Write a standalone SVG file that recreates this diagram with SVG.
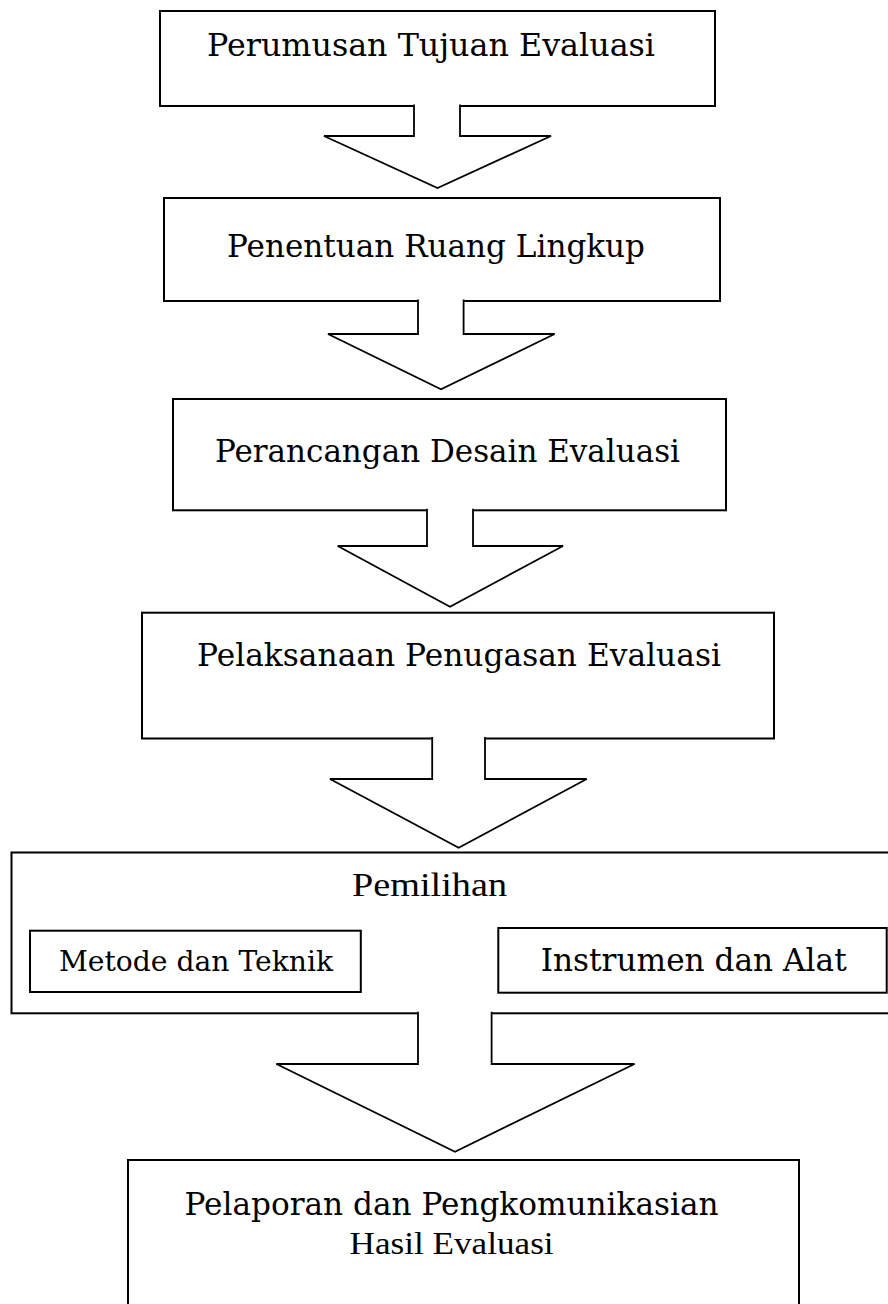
<svg xmlns="http://www.w3.org/2000/svg" width="888" height="1304" viewBox="0 0 888 1304">
<style>
.box{fill:#fff;stroke:#000;stroke-width:2}
.arr{fill:#fff;stroke:#000;stroke-width:1.8;stroke-linejoin:miter}
.t{font-family:"DejaVu Serif","Liberation Serif",serif;font-size:31px;fill:#000}
.ts{font-family:"DejaVu Serif","Liberation Serif",serif;font-size:27px;fill:#000}
.tc{font-family:"Liberation Serif","DejaVu Serif",serif;fill:#000}
</style>
<rect width="888" height="1304" fill="#fff"/>
<g id="n1"><rect class="box" x="160" y="11" width="555" height="95"/><text class="t" x="207" y="56" textLength="448" lengthAdjust="spacingAndGlyphs">Perumusan Tujuan Evaluasi</text></g>
<g id="n2"><rect class="box" x="164" y="198" width="556" height="103"/><text class="t" x="227" y="257" textLength="418" lengthAdjust="spacingAndGlyphs">Penentuan Ruang Lingkup</text></g>
<g id="n3"><rect class="box" x="173" y="399" width="553" height="111.3"/><text class="t" x="215" y="462" textLength="465" lengthAdjust="spacingAndGlyphs">Perancangan Desain Evaluasi</text></g>
<g id="n4"><rect class="box" x="142" y="612.7" width="632" height="125.8"/><text class="t" x="197" y="666" textLength="524" lengthAdjust="spacingAndGlyphs">Pelaksanaan Penugasan Evaluasi</text></g>
<g id="n5"><rect class="box" x="11.5" y="852.5" width="880" height="160.8"/><text class="tc" x="352" y="896" font-size="33" textLength="155" lengthAdjust="spacingAndGlyphs">Pemilihan</text></g>
<g id="n5a"><rect class="box" x="30" y="930.7" width="330.8" height="61.3"/><text class="ts" x="59" y="971" textLength="274" lengthAdjust="spacingAndGlyphs">Metode dan Teknik</text></g>
<g id="n5b"><rect class="box" x="498.3" y="928" width="388.4" height="64.7"/><text class="t" x="540.7" y="971" textLength="306" lengthAdjust="spacingAndGlyphs">Instrumen dan Alat</text></g>
<g id="n6"><rect class="box" x="128" y="1160" width="671" height="160"/><text class="t" x="184.5" y="1215" textLength="534" lengthAdjust="spacingAndGlyphs">Pelaporan dan Pengkomunikasian</text><text class="tc" x="349.6" y="1254" font-size="31" textLength="204" lengthAdjust="spacingAndGlyphs">Hasil Evaluasi</text></g>
<g id="connectors">
<polyline class="arr" points="414,104.5 414,136 324,136 437.5,188 551,136 460,136 460,104.5"/>
<polyline class="arr" points="418,299.5 418,334 328,334 441,389.3 554.6,334 463.6,334 463.6,299.5"/>
<polyline class="arr" points="427,508.8 427,546 337.7,546 450,606.7 563,546 473,546 473,508.8"/>
<polyline class="arr" points="432.2,737 432.2,779 330,779 458.7,847.7 586.7,779 485,779 485,737"/>
<polyline class="arr" points="418,1011.8 418,1064 276.4,1064 455,1151.7 634.5,1064 491.6,1064 491.6,1011.8"/>
</g>
</svg>
